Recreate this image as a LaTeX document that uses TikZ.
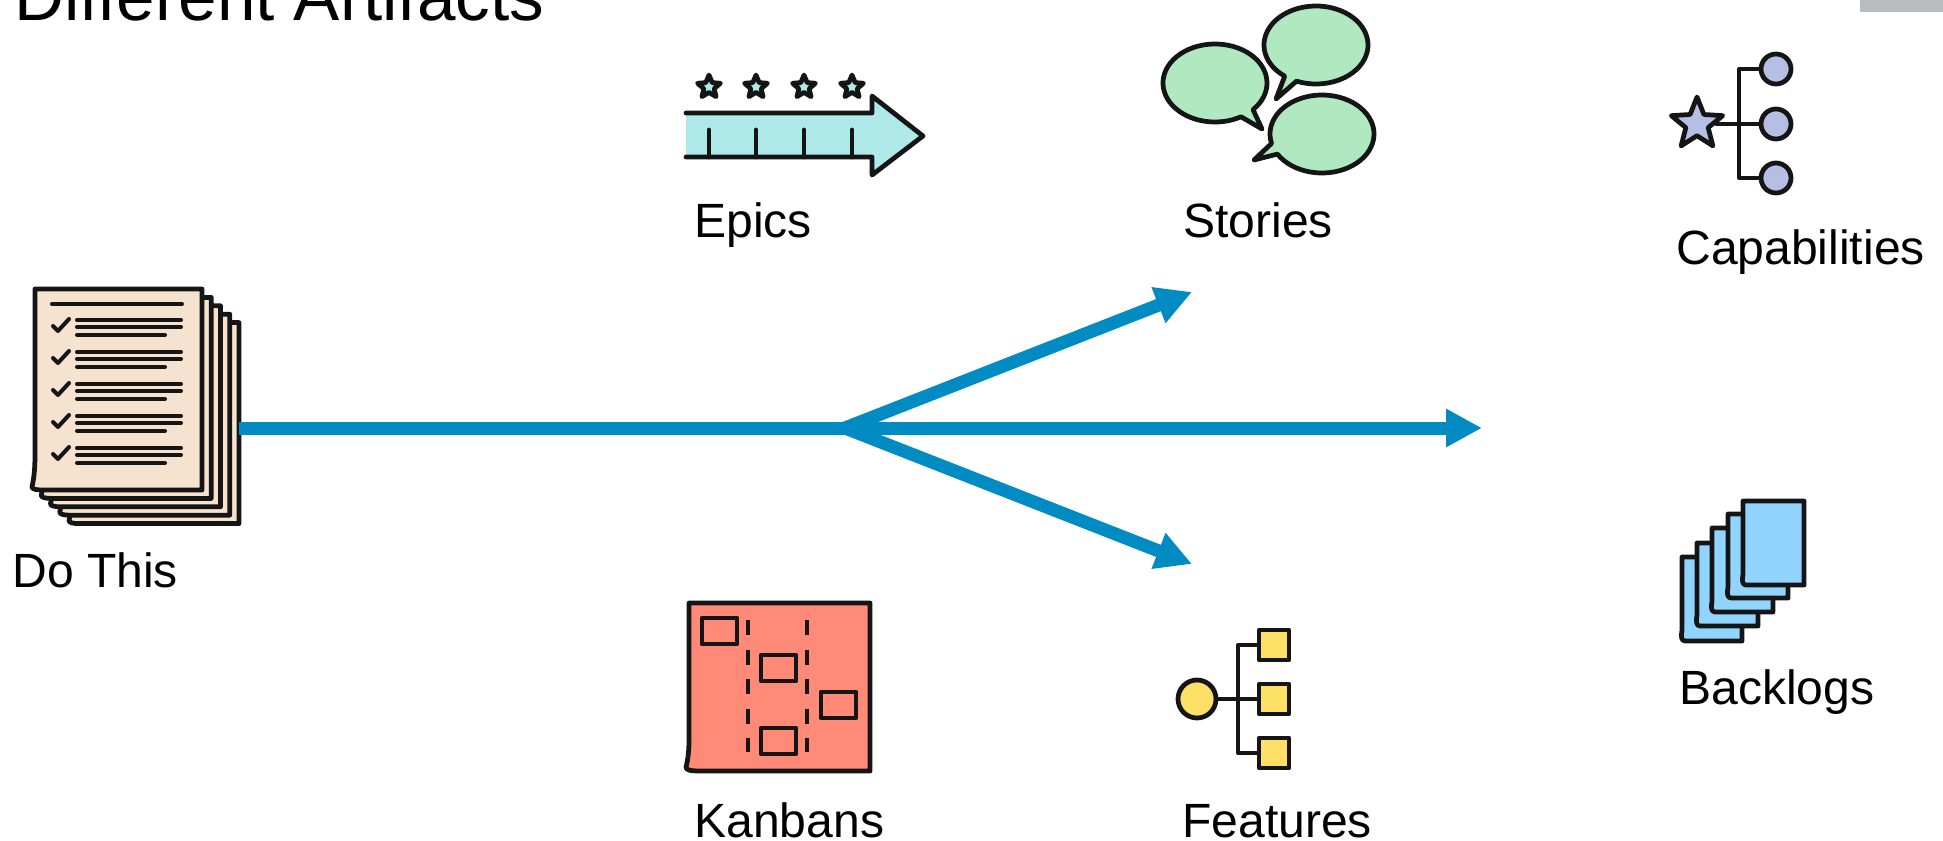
\documentclass[tikz,border=0pt]{standalone}
\usepackage{fontspec}
\setmainfont{Liberation Sans}
\usetikzlibrary{graphs}
\usetikzlibrary{arrows.meta}
\usetikzlibrary{shapes.geometric}
\definecolor{flowblue}{HTML}{008CC2}
\definecolor{inkblack}{HTML}{151515}
\definecolor{sheetcol}{HTML}{F5E3CF}
\definecolor{epiccol}{HTML}{AFE9E9}
\definecolor{storycol}{HTML}{B0E8C0}
\definecolor{capcol}{HTML}{B4BFE3}
\definecolor{backlogcol}{HTML}{91D5FF}
\definecolor{kanbancol}{HTML}{FF8A78}
\definecolor{featcol}{HTML}{FFE066}
\definecolor{cornergray}{HTML}{B8BCBF}
\begin{document}
\begin{tikzpicture}[x=0.2mm, y=0.2mm,
	flow/.style={draw=flowblue, line width=2.6mm, >={Triangle[length=7.2mm,width=7.2mm]}},
	label/.style={anchor=base west, inner sep=0pt, font=\fontsize{27.35}{30}\selectfont, text=black},
	icon/.style={draw=inkblack, line width=0.95mm, line join=round, line cap=round},
	thin/.style={icon, line width=0.8mm},
	card/.style={icon, rectangle, minimum width=7mm, minimum height=5.2mm, inner sep=0pt, fill=kanbancol},
	leaf/.style={icon, circle, minimum size=6mm, inner sep=0pt, fill=capcol},
	box/.style={icon, rectangle, minimum size=6mm, inner sep=0pt, fill=featcol}]
	\useasboundingbox (0,-841) rectangle (1943,0);

	%Title and corner
	\node[label, font=\fontsize{39.4}{42}\selectfont] (title) at (14,-21) {Different Artifacts};
	\fill[cornergray] (1860,0) rectangle (1943,-12);

	%Do This
	\foreach \i in {4,3,2,1,0}
		\draw[icon, fill=sheetcol, shift={(\i*9.25,-\i*8.4)}] (35,-289) -- (202,-289) -- (202,-490) -- (42,-490)
			.. controls (36,-490) and (32,-489) .. (32,-487) .. controls (34,-478) and (35,-468) .. (35,-455) -- cycle;
	\draw[thin] (52,-304) -- (182,-304);
	\foreach \d in {0,32,64,96,128} {
		\draw[thin] (77,-320-\d) -- (181,-320-\d);
		\draw[thin] (77,-327-\d) -- (181,-327-\d);
		\draw[thin] (77,-335-\d) -- (165,-335-\d);
		\draw[thin] (53,-326-\d) -- (58,-331-\d) -- (69,-319-\d);
	}
	\node[label] (dothis) at (12,-587) {Do This};

	%Epics
	\fill[epiccol] (686,-113) -- (872,-113) -- (872,-96) -- (923,-136) -- (872,-175) -- (872,-157) -- (686,-157) -- cycle;
	\draw[icon] (686,-113) -- (872,-113) -- (872,-96) -- (923,-136) -- (872,-175) -- (872,-157) -- (686,-157);
	\foreach \x in {709,756,804,852} {
		\draw[icon] (\x,-130) -- (\x,-157);
		\node[icon, star, star points=5, star point ratio=2.2, minimum size=4.8mm, inner sep=0pt, fill=epiccol] at (\x,-87) {};
	}
	\node[label] (epics) at (694,-237) {Epics};

	%Stories
	\draw[icon, fill=storycol] (1215,-83) ++(-43:1.04cm and .78cm) arc[start angle=-43, end angle=300, x radius=1.04cm, y radius=.78cm] -- (1262,-129) -- cycle;
	\draw[icon, fill=storycol] (1316,-45) ++(248:1.04cm and .78cm) arc[start angle=248, end angle=593, x radius=1.04cm, y radius=.78cm] -- (1276,-99) -- cycle;
	\draw[icon, fill=storycol] (1322,-134) ++(211:1.04cm and .78cm) arc[start angle=211, end angle=554, x radius=1.04cm, y radius=.78cm] -- (1254,-160) -- cycle;
	\node[label] (stories) at (1183,-237) {Stories};

	%Capabilities
	\node[icon, star, star points=5, star point ratio=2.3, minimum size=10.8mm, inner sep=0pt, fill=capcol] (capstar) at (1697,-124) {};
	\node[leaf] (cap1) at (1776,-69) {};
	\node[leaf] (cap2) at (1776,-124) {};
	\node[leaf] (cap3) at (1776,-178) {};
	\coordinate (captrunk) at (1739,-124);
	\draw[thin] (cap1) -| (captrunk) |- (cap3);
	\draw[thin] (capstar) -- (captrunk) -- (cap2);
	\node[label] (capabilities) at (1676,-264) {Capabilities};

	%Backlogs
	\draw[icon, fill=backlogcol] (1682,-557) -- (1742,-557) -- (1742,-641) -- (1685,-641) .. controls (1681,-641) and (1681,-636) .. (1682,-630) -- cycle;
	\draw[icon, fill=backlogcol] (1697,-543) -- (1758,-543) -- (1758,-626) -- (1700,-626) .. controls (1696,-626) and (1696,-621) .. (1697,-615) -- cycle;
	\draw[icon, fill=backlogcol] (1712,-528) -- (1773,-528) -- (1773,-612) -- (1715,-612) .. controls (1711,-612) and (1711,-607) .. (1712,-601) -- cycle;
	\draw[icon, fill=backlogcol] (1728,-514) -- (1788,-514) -- (1788,-598) -- (1731,-598) .. controls (1727,-598) and (1727,-593) .. (1728,-587) -- cycle;
	\draw[icon, fill=backlogcol] (1743,-501) -- (1804,-501) -- (1804,-585) -- (1746,-585) .. controls (1742,-585) and (1742,-580) .. (1743,-574) -- cycle;
	\node[label] (backlogs) at (1679,-704) {Backlogs};

	%Kanbans
	\draw[icon, fill=kanbancol] (689,-603) -- (870,-603) -- (870,-771) -- (700,-771) .. controls (690,-771) and (686,-770) .. (686,-767) .. controls (688,-760) and (689,-750) .. (689,-740) -- cycle;
	\draw[thin, dash pattern=on 3mm off 2.9mm, line cap=butt] (748,-620) -- (748,-752);
	\draw[thin, dash pattern=on 3mm off 2.9mm, line cap=butt] (807,-620) -- (807,-752);
	\node[card] (card1) at (719.5,-631) {};
	\node[card] (card2) at (778.5,-668) {};
	\node[card] (card3) at (838.5,-705) {};
	\node[card] (card4) at (778.5,-741) {};
	\node[label] (kanbans) at (694,-837) {Kanbans};

	%Features
	\node[icon, circle, minimum size=7.6mm, inner sep=0pt, fill=featcol] (featroot) at (1197,-699) {};
	\node[box] (feat1) at (1274,-645) {};
	\node[box] (feat2) at (1274,-699) {};
	\node[box] (feat3) at (1274,-753) {};
	\coordinate (feattrunk) at (1238,-699);
	\draw[thin] (feat1) -| (feattrunk) |- (feat3);
	\draw[thin] (featroot) -- (feattrunk) -- (feat2);
	\node[label] (features) at (1182,-837) {Features};

	%Pilene
	\coordinate (docout) at (239,-428);
	\coordinate (split) at (845,-428);
	\coordinate (upend) at (1192,-292);
	\coordinate (midend) at (1482,-428);
	\coordinate (lowend) at (1192,-564);
	\graph[edges={flow}] {
		(docout) -- (split);
		(split) -> (upend);
		(split) -> (midend);
		(split) -> (lowend);
	};
\end{tikzpicture}
\end{document}
